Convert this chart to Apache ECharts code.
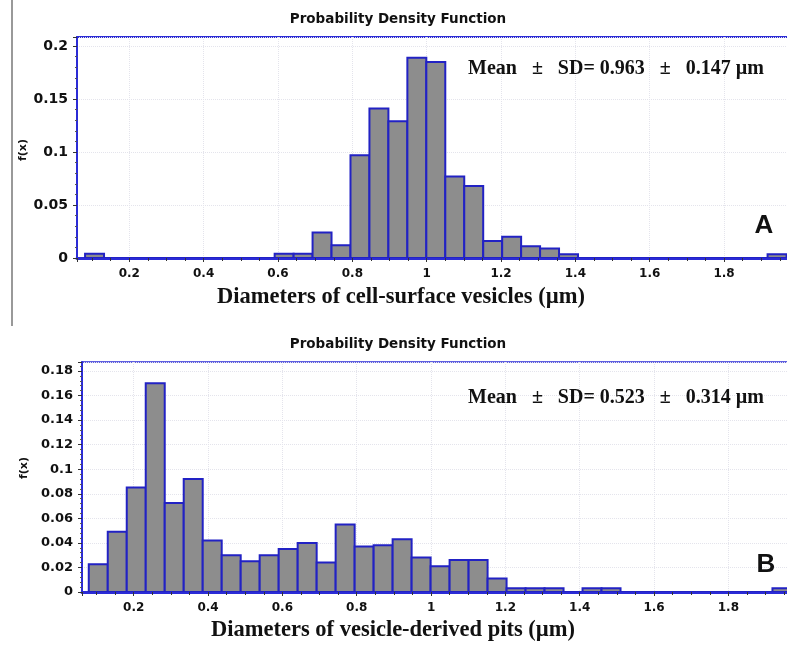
<!DOCTYPE html>
<html>
<head>
<meta charset="utf-8">
<script src="https://cdn.jsdelivr.net/npm/echarts@6/dist/echarts.min.js"></script>
<style>html,body{margin:0;padding:0;background:#fff;}#c{width:787px;height:646px;}</style>
</head>
<body>
<div id="c"></div>
<script>
// ---- Data ----
const titleText = 'Probability Density Function';
const yAxisLabel = 'f(x)';

// Panel A
const xNameA = 'Diameters of cell-surface vesicles (\u00b5m)';
const statsA = 'Mean   \u00b1   SD= 0.963   \u00b1   0.147 \u00b5m';
const binStartA = 0.081;
const binWidthA = 0.051;
const valuesA = [0.004, 0, 0, 0, 0, 0, 0, 0, 0, 0,
                 0.004, 0.004, 0.024, 0.012, 0.097, 0.141, 0.129, 0.189, 0.185, 0.077,
                 0.068, 0.016, 0.020, 0.011, 0.009, 0.0035, 0, 0, 0, 0,
                 0, 0, 0, 0, 0, 0, 0.0035];

// Panel B
const xNameB = 'Diameters of vesicle-derived pits (\u00b5m)';
const statsB = 'Mean   \u00b1   SD= 0.523   \u00b1   0.314 \u00b5m';
const binStartB = 0.079;
const binWidthB = 0.0511;
const valuesB = [0.0225, 0.049, 0.085, 0.170, 0.0725, 0.092, 0.042, 0.030, 0.025, 0.030,
                 0.035, 0.040, 0.024, 0.055, 0.037, 0.038, 0.043, 0.028, 0.021, 0.026,
                 0.026, 0.011, 0.003, 0.003, 0.003, 0, 0.003, 0.003, 0, 0,
                 0, 0, 0, 0, 0, 0, 0.003];

const xTickStep = 0.2;
const yTickStepA = 0.05;
const yTickStepB = 0.02;

// ---- Build ----
function bins(start, width, vals) {
  return vals.map((v, i) => [start + i * width, start + (i + 1) * width, v]);
}
const BLUE = '#2b2bd6';
const SANS = 'DejaVu Sans';
const SERIF = 'Liberation Serif';

function stepFormatter(step) {
  return function (v) {
    const r = v / step;
    if (Math.abs(r - Math.round(r)) > 1e-6) return '';
    return String(+v.toFixed(3));
  };
}

function renderBar(params, api) {
  const p0 = api.coord([api.value(0), api.value(2)]);
  const p1 = api.coord([api.value(1), 0]);
  return {
    type: 'rect',
    shape: { x: p0[0], y: p0[1], width: p1[0] - p0[0], height: p1[1] - p0[1] },
    style: { fill: '#8d8d8d', stroke: '#2222c4', lineWidth: 2 }
  };
}

function xAxisCfg(gi, min, max) {
  return {
    type: 'value', gridIndex: gi, min: min, max: max, splitNumber: 10,
    axisLine: { show: true, lineStyle: { color: BLUE, width: 3 } },
    axisTick: { show: true, length: 4, lineStyle: { color: '#333', width: 1 } },
    minorTick: { show: true, splitNumber: 4, length: 3, lineStyle: { color: '#333' } },
    splitLine: { show: true, lineStyle: { color: '#e4e4ec', type: 'dotted' } },
    axisLabel: { formatter: stepFormatter(xTickStep), color: '#111', fontFamily: SANS,
                 fontWeight: 'bold', fontSize: 12, margin: 10 }
  };
}
function yAxisCfg(gi, max, step, fs) {
  return {
    type: 'value', gridIndex: gi, min: 0, max: max, interval: step,
    axisLine: { show: true, lineStyle: { color: BLUE, width: 2 } },
    axisTick: { show: true, length: 4, lineStyle: { color: '#333', width: 1 } },
    minorTick: { show: true, splitNumber: 5, length: 2, lineStyle: { color: '#555' } },
    splitLine: { show: true, lineStyle: { color: '#e4e4ec', type: 'dotted' } },
    axisLabel: { formatter: stepFormatter(step), color: '#111', fontFamily: SANS,
                 fontWeight: 'bold', fontSize: fs, margin: 9 }
  };
}

function txt(x, y, text, font, align, rot) {
  return { type: 'text', x: x, y: y, rotation: rot || 0, z: 100,
    style: { text: text, font: font, fill: '#111', align: align || 'center', verticalAlign: 'middle' } };
}

const chart = echarts.init(document.getElementById('c'), null, { renderer: 'canvas' });
chart.setOption({
  animation: false,
  backgroundColor: '#fff',
  grid: [
    { left: 77, top: 37, width: 714, height: 221, show: true, borderColor: BLUE, borderWidth: 2,
      containLabel: false, outerBoundsMode: 'none' },
    { left: 82, top: 362, width: 709, height: 230, show: true, borderColor: BLUE, borderWidth: 1.5,
      containLabel: false, outerBoundsMode: 'none' }
  ],
  xAxis: [xAxisCfg(0, 0.0593, 1.980), xAxisCfg(1, 0.0608, 1.9685)],
  yAxis: [yAxisCfg(0, 0.2085, yTickStepA, 14), yAxisCfg(1, 0.1873, yTickStepB, 13)],
  series: [
    { type: 'custom', xAxisIndex: 0, yAxisIndex: 0, renderItem: renderBar, clip: true,
      encode: { x: [0, 1], y: 2 }, data: bins(binStartA, binWidthA, valuesA) },
    { type: 'custom', xAxisIndex: 1, yAxisIndex: 1, renderItem: renderBar, clip: true,
      encode: { x: [0, 1], y: 2 }, data: bins(binStartB, binWidthB, valuesB) }
  ],
  graphic: [
    { type: 'line', shape: { x1: 12, y1: 0, x2: 12, y2: 326 }, style: { stroke: '#777', lineWidth: 1.5 } },
    txt(398, 19, titleText, 'bold 13.5px "' + SANS + '"'),
    txt(398, 344, titleText, 'bold 13.5px "' + SANS + '"'),
    txt(23, 150, yAxisLabel, 'bold 11px "' + SANS + '"', 'center', Math.PI / 2),
    txt(24, 468, yAxisLabel, 'bold 11px "' + SANS + '"', 'center', Math.PI / 2),
    txt(401, 297, xNameA, 'bold 22.5px "' + SERIF + '"'),
    txt(393, 630, xNameB, 'bold 22.5px "' + SERIF + '"'),
    txt(468, 69, statsA, 'bold 20px "' + SERIF + '"', 'left'),
    txt(468, 398, statsB, 'bold 20px "' + SERIF + '"', 'left'),
    txt(764, 226, 'A', 'bold 26px "Liberation Sans"'),
    txt(766, 565, 'B', 'bold 26px "Liberation Sans"')
  ]
});
</script>
</body>
</html>
